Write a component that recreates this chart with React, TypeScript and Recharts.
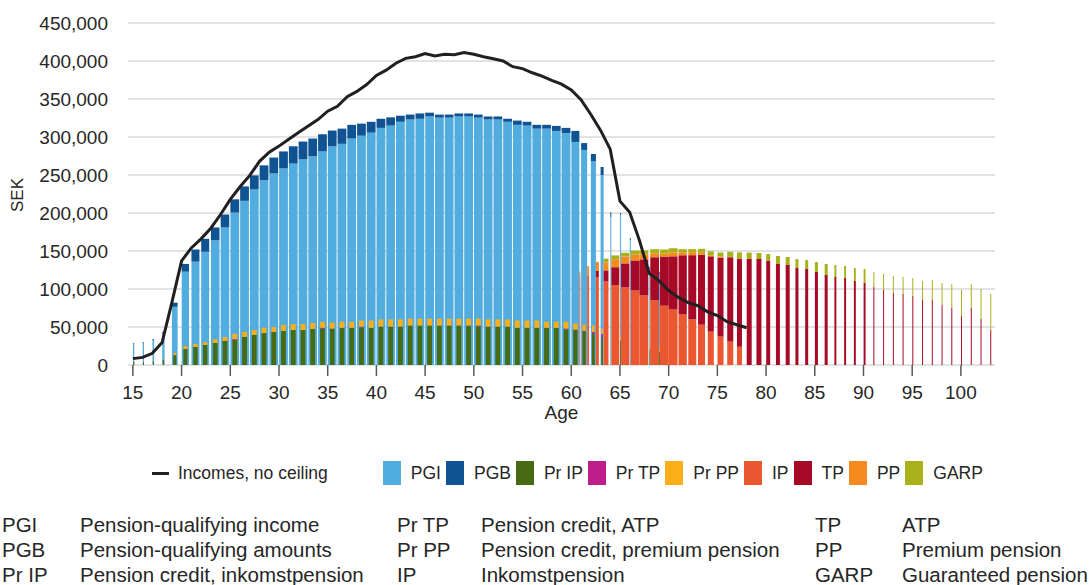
import React from "react";
import { ComposedChart, Bar, Line, XAxis, YAxis, CartesianGrid } from "recharts";

// ages 15..103
const ages = [
  15, 16, 17, 18, 19, 20, 21, 22, 23, 24,
  25, 26, 27, 28, 29, 30, 31, 32, 33, 34,
  35, 36, 37, 38, 39, 40, 41, 42, 43, 44,
  45, 46, 47, 48, 49, 50, 51, 52, 53, 54,
  55, 56, 57, 58, 59, 60, 61, 62, 63, 64,
  65, 66, 67, 68, 69, 70, 71, 72, 73, 74,
  75, 76, 77, 78, 79, 80, 81, 82, 83, 84,
  85, 86, 87, 88, 89, 90, 91, 92, 93, 94,
  95, 96, 97, 98, 99, 100, 101, 102, 103,
];

// values in thousand SEK, one entry per age
const pgi = [
  27, 28.5, 32.5, 41.8, 76.6, 122.8, 136, 149, 164, 181,
  200.6, 216, 231, 243, 252, 258.7, 265, 270.6, 274.6, 281,
  287.7, 291, 298, 301.7, 305.7, 312, 315, 320, 323, 324,
  327, 325.5, 325.5, 327, 327, 325.5, 323, 323, 320, 316,
  315, 311, 311, 308, 305, 293.5, 283, 268, 250, 194.5,
  197, 164, 0, 127, 120, 0, 0, 0, 0, 0,
  0, 0, 0, 0, 0, 0, 0, 0, 0, 0,
  0, 0, 0, 0, 0, 0, 0, 0, 0, 0,
  0, 0, 0, 0, 0, 0, 0, 0, 0,
];
const pgb = [
  1.6, 1.5, 1.5, 1.8, 5.4, 10.2, 16, 17, 17, 17,
  17.4, 19, 18.5, 19.7, 21, 22.3, 22.8, 23.4, 23.4, 22.6,
  20.8, 20, 18, 15.9, 14.3, 12, 10.8, 8, 6.5, 7,
  5, 4, 4, 4, 4, 4, 4, 4, 4, 5.6,
  5, 5, 5, 6.6, 7, 14.5, 9, 9.6, 10.5, 6.5,
  3, 3, 0, 2, 2, 0, 0, 0, 0, 0,
  0, 0, 0, 0, 0, 0, 0, 0, 0, 0,
  0, 0, 0, 0, 0, 0, 0, 0, 0, 0,
  0, 0, 0, 0, 0, 0, 0, 0, 0,
];
const prIp = [
  4, 4, 5, 7, 13, 21, 23.8, 26.4, 29, 31.7,
  33, 37, 39.6, 42, 43.6, 45, 46, 46, 47.5, 48,
  48, 48.5, 49, 49.5, 49, 50.6, 50.6, 50.6, 52, 52,
  52, 52, 52, 52, 52, 51, 50.6, 50.6, 50.6, 49,
  49, 49, 49, 49, 47, 46.6, 45, 41, 36, 0,
  32, 0, 0, 20, 17.6, 0, 0, 0, 0, 0,
  0, 0, 0, 0, 0, 0, 0, 0, 0, 0,
  0, 0, 0, 0, 0, 0, 0, 0, 0, 0,
  0, 0, 0, 0, 0, 0, 0, 0, 0,
];
const prTp = [
  0, 0, 0, 0, 0, 0, 0, 0, 0, 0,
  1, 0, 0, 0, 0, 0, 0, 0, 0, 1,
  0, 0.5, 0, 1.1, 0, 0, 0, 0, 0, 0,
  0, 0, 0, 0, 0, 1, 0, 0, 0, 0,
  0, 0, 0, 0, 1, 0, 0, 2.6, 5, 0,
  0, 0, 0, 0, 0, 0, 0, 0, 0, 0,
  0, 0, 0, 0, 0, 0, 0, 0, 0, 0,
  0, 0, 0, 0, 0, 0, 0, 0, 0, 0,
  0, 0, 0, 0, 0, 0, 0, 0, 0,
];
const prPp = [
  0.5, 0.5, 1, 1, 3, 4, 3.9, 3.6, 5, 5.3,
  7, 6.6, 6.4, 7, 6.4, 7.8, 8, 8, 7.9, 7.8,
  8, 8, 8, 8, 9.6, 9.4, 9.4, 9.4, 9, 9,
  9, 9, 9, 9, 9, 9, 9.4, 9.4, 9.4, 9.6,
  9.6, 9.6, 8, 8, 9, 8, 8, 8.4, 7, 0,
  4.5, 0, 0, 4, 4, 0, 0, 0, 0, 0,
  0, 0, 0, 0, 0, 0, 0, 0, 0, 0,
  0, 0, 0, 0, 0, 0, 0, 0, 0, 0,
  0, 0, 0, 0, 0, 0, 0, 0, 0,
];
const ip = [
  0, 0, 0, 0, 0, 0, 0, 0, 0, 0,
  0, 0, 0, 0, 0, 0, 0, 0, 0, 0,
  0, 0, 0, 0, 0, 0, 0, 0, 0, 0,
  0, 0, 0, 0, 0, 0, 0, 0, 0, 0,
  0, 0, 0, 0, 0, 118, 117, 115.8, 110, 104.7,
  102, 98, 91.5, 85, 78, 73, 66.4, 60, 53, 44,
  37.4, 30.8, 24, 0, 0, 0, 0, 0, 0, 0,
  0, 0, 0, 0, 0, 0, 0, 0, 0, 0,
  0, 0, 0, 0, 0, 0, 0, 0, 0,
];
const tp = [
  0, 0, 0, 0, 0, 0, 0, 0, 0, 0,
  0, 0, 0, 0, 0, 0, 0, 0, 0, 0,
  0, 0, 0, 0, 0, 0, 0, 0, 0, 0,
  0, 0, 0, 0, 0, 0, 0, 0, 0, 0,
  0, 0, 0, 0, 0, 0, 0, 8, 14.5, 24,
  31.7, 39.6, 47.5, 56.8, 64.7, 70, 78, 84.5, 92, 99,
  104, 111, 116, 140, 139.5, 136.8, 133, 131.6, 127.6, 126.3,
  122.4, 118.4, 115.8, 114.5, 110.5, 107.9, 102.6, 98.7, 94.7, 93.4,
  90.8, 85.5, 85.5, 79, 75, 64.5, 75, 60.5, 46,
];
const pp = [
  0, 0, 0, 0, 0, 0, 0, 0, 0, 0,
  0, 0, 0, 0, 0, 0, 0, 0, 0, 0,
  0, 0, 0, 0, 0, 0, 0, 0, 0, 0,
  0, 0, 0, 0, 0, 0, 0, 0, 0, 0,
  0, 0, 0, 0, 0, 5, 13, 12, 10.5, 10.5,
  9, 8, 6.6, 5.3, 4, 5.3, 4, 4, 2.6, 1.3,
  1.3, 0.5, 0.3, 0, 0, 0, 0, 0, 0, 0,
  0, 0, 0, 0, 0, 0, 0, 0, 0, 0,
  0, 0, 0, 0, 0, 0, 0, 0, 0,
];
const garp = [
  0, 0, 0, 0, 0, 0, 0, 0, 0, 0,
  0, 0, 0, 0, 0, 0, 0, 0, 0, 0,
  0, 0, 0, 0, 0, 0, 0, 0, 0, 0,
  0, 0, 0, 0, 0, 0, 0, 0, 0, 0,
  0, 0, 0, 0, 0, 0, 0, 0, 5, 5,
  5, 5, 5.3, 5.3, 5.3, 5.3, 4, 4, 5.3, 5.3,
  5.3, 6.6, 7.9, 7.9, 7.9, 9.2, 10.5, 10.5, 11.8, 11.8,
  13, 14.5, 15.8, 15.8, 17, 18.4, 19.8, 21, 22.3, 22.4,
  23.7, 25, 26.3, 28.9, 31.6, 34.2, 31.6, 39.5, 47.4,
];
const income = [
  8.4, 10, 15.4, 29.5, 82, 137, 154, 166, 180, 198,
  218, 234.5, 249.5, 268, 280, 288, 297, 305.8, 314.6, 323,
  334, 340.5, 353, 360, 369, 381, 388, 397, 403.5, 405.7,
  409.7, 406.6, 408.8, 408.3, 411, 408.8, 405.7, 403, 400, 392.5,
  390, 384.5, 380, 374.5, 369.6, 362, 349, 330, 309, 284,
  215.6, 201, 164, 120.6, 111, 98, 89, 82, 78, 70,
  65, 57, 53, 49, null, null, null, null, null, null,
  null, null, null, null, null, null, null, null, null, null,
  null, null, null, null, null, null, null, null, null,
];
// share of each age's slot taken by the work bars and the pension bars
const earnW = [
  0.13, 0.13, 0.17, 0.24, 0.58, 0.75, 0.82, 0.82, 0.88, 0.88,
  0.9, 0.9, 0.9, 0.9, 0.9, 0.9, 0.9, 0.9, 0.9, 0.9,
  0.9, 0.9, 0.9, 0.9, 0.9, 0.9, 0.9, 0.9, 0.9, 0.9,
  0.9, 0.9, 0.9, 0.9, 0.9, 0.9, 0.9, 0.9, 0.9, 0.9,
  0.9, 0.9, 0.9, 0.9, 0.9, 0.82, 0.62, 0.52, 0.31, 0.1,
  0.1, 0.1, 0, 0.1, 0.1, 0, 0, 0, 0, 0,
  0, 0, 0, 0, 0, 0, 0, 0, 0, 0,
  0, 0, 0, 0, 0, 0, 0, 0, 0, 0,
  0, 0, 0, 0, 0, 0, 0, 0, 0,
];
const pensW = [
  0, 0, 0, 0, 0, 0, 0, 0, 0, 0,
  0, 0, 0, 0, 0, 0, 0, 0, 0, 0,
  0, 0, 0, 0, 0, 0, 0, 0, 0, 0,
  0, 0, 0, 0, 0, 0, 0, 0, 0, 0,
  0, 0, 0, 0, 0, 0.1, 0.2, 0.3, 0.5, 0.82,
  0.85, 0.9, 0.9, 0.9, 0.9, 0.9, 0.85, 0.82, 0.72, 0.62,
  0.62, 0.62, 0.51, 0.51, 0.51, 0.41, 0.41, 0.41, 0.31, 0.31,
  0.31, 0.31, 0.2, 0.2, 0.2, 0.2, 0.1, 0.1, 0.1, 0.1,
  0.09, 0.09, 0.09, 0.09, 0.09, 0.09, 0.09, 0.09, 0.09,
];

const yTicks = [0, 50000, 100000, 150000, 200000, 250000, 300000, 350000, 400000, 450000];

const K = 1000;
const data = ages.map((age, i) => ({
  age,
  pgi: pgi[i] * K,
  pgb: pgb[i] * K,
  prIp: prIp[i] * K,
  prTp: prTp[i] * K,
  prPp: prPp[i] * K,
  ip: ip[i] * K,
  tp: tp[i] * K,
  pp: pp[i] * K,
  garp: garp[i] * K,
  income: income[i] == null ? null : (income[i] as number) * K,
  earnW: earnW[i],
  pensW: pensW[i],
}));

const COLORS = {
  pgi: "#51acdf",
  pgb: "#0f5392",
  prIp: "#476a12",
  prTp: "#bf1d8b",
  prPp: "#fbae17",
  ip: "#ea5730",
  tp: "#a70a27",
  pp: "#f58a1f",
  garp: "#a9b11a",
};

const W = 1090;
const M = { top: 23, right: 95, bottom: 5, left: 20 };
const YW = 108;
const BAND = (W - M.left - YW - M.right) / ages.length;
const TEXT = "#262626";
const FONT = '"Liberation Sans", Arial, sans-serif';

type Kind = "earn" | "credit" | "pension";

const makeShape = (kind: Kind) => (p: any) => {
  const { x, y, width, height, fill, payload } = p;
  if (!payload || !(height > 0)) return <g />;
  const anchor = x + width / 2;
  const ew = payload.earnW * BAND;
  let left = anchor;
  let w = ew;
  if (kind === "credit") {
    w = ew * 0.55;
    left = anchor + (ew - w) / 2;
  } else if (kind === "pension") {
    left = anchor + ew;
    w = payload.pensW * BAND;
  }
  if (w <= 0) return <g />;
  return <rect x={left} y={y} width={Math.max(w, 1)} height={height} fill={fill} />;
};

const earnShape = makeShape("earn");
const creditShape = makeShape("credit");
const pensionShape = makeShape("pension");

const legendItems = [
  { key: "pgi", label: "PGI" },
  { key: "pgb", label: "PGB" },
  { key: "prIp", label: "Pr IP" },
  { key: "prTp", label: "Pr TP" },
  { key: "prPp", label: "Pr PP" },
  { key: "ip", label: "IP" },
  { key: "tp", label: "TP" },
  { key: "pp", label: "PP" },
  { key: "garp", label: "GARP" },
];

const glossary = [
  [
    ["PGI", "Pension-qualifying income"],
    ["PGB", "Pension-qualifying amounts"],
    ["Pr IP", "Pension credit, inkomstpension"],
  ],
  [
    ["Pr TP", "Pension credit, ATP"],
    ["Pr PP", "Pension credit, premium pension"],
    ["IP", "Inkomstpension"],
  ],
  [
    ["TP", "ATP"],
    ["PP", "Premium pension"],
    ["GARP", "Guaranteed pension"],
  ],
];
const glossCols = [
  { abbr: 2, desc: 80 },
  { abbr: 397, desc: 481 },
  { abbr: 815, desc: 902 },
];

export default function App() {
  const tick = { fontSize: 19, fill: TEXT, fontFamily: FONT };
  return (
    <div
      style={{
        position: "absolute",
        left: 0,
        top: 0,
        width: 1090,
        height: 585,
        overflow: "hidden",
        background: "#fff",
        fontFamily: FONT,
        color: TEXT,
      }}
    >
      <ComposedChart width={W} height={430} data={data} margin={M} barCategoryGap={0} barGap={0}>
        <CartesianGrid vertical={false} stroke="#dadada" strokeWidth={1.5} />
        <XAxis
          xAxisId="main"
          dataKey="age"
          interval={4}
          axisLine={false}
          tickLine={{ stroke: "#595959", strokeWidth: 1.5 }}
          tickSize={11}
          tickMargin={10}
          height={60}
          tick={tick}
          label={{ value: "Age", position: "insideBottom", offset: 6, fontSize: 19, fill: TEXT, fontFamily: FONT }}
        />
        <XAxis xAxisId="credit" dataKey="age" hide height={0} />
        <XAxis xAxisId="pension" dataKey="age" hide height={0} />
        <YAxis
          domain={[0, 450000]}
          ticks={yTicks}
          interval={0}
          width={YW}
          axisLine={false}
          tickLine={false}
          tickSize={0}
          tickMargin={20}
          tick={tick}
          tickFormatter={(v: number) => v.toLocaleString("en-US")}
        />
        <Bar xAxisId="main" dataKey="pgi" stackId="earn" fill={COLORS.pgi} shape={earnShape} isAnimationActive={false} />
        <Bar xAxisId="main" dataKey="pgb" stackId="earn" fill={COLORS.pgb} shape={earnShape} isAnimationActive={false} />
        <Bar xAxisId="credit" dataKey="prIp" stackId="credit" fill={COLORS.prIp} shape={creditShape} isAnimationActive={false} />
        <Bar xAxisId="credit" dataKey="prTp" stackId="credit" fill={COLORS.prTp} shape={creditShape} isAnimationActive={false} />
        <Bar xAxisId="credit" dataKey="prPp" stackId="credit" fill={COLORS.prPp} shape={creditShape} isAnimationActive={false} />
        <Bar xAxisId="pension" dataKey="ip" stackId="pension" fill={COLORS.ip} shape={pensionShape} isAnimationActive={false} />
        <Bar xAxisId="pension" dataKey="tp" stackId="pension" fill={COLORS.tp} shape={pensionShape} isAnimationActive={false} />
        <Bar xAxisId="pension" dataKey="pp" stackId="pension" fill={COLORS.pp} shape={pensionShape} isAnimationActive={false} />
        <Bar xAxisId="pension" dataKey="garp" stackId="pension" fill={COLORS.garp} shape={pensionShape} isAnimationActive={false} />
        <Line
          xAxisId="main"
          dataKey="income"
          type="linear"
          stroke="#231f20"
          strokeWidth={3}
          dot={false}
          activeDot={false}
          isAnimationActive={false}
        />
      </ComposedChart>

      <div
        style={{
          position: "absolute",
          left: 18,
          top: 195,
          transform: "translate(-50%, -50%) rotate(-90deg)",
          fontSize: 17,
          whiteSpace: "nowrap",
        }}
      >
        SEK
      </div>

      <div
        style={{
          position: "absolute",
          left: 152,
          top: 461,
          height: 24,
          display: "flex",
          alignItems: "center",
          fontSize: 17.5,
          whiteSpace: "nowrap",
        }}
      >
        <span style={{ display: "inline-block", width: 17, height: 3, background: "#231f20", marginRight: 9 }} />
        <span style={{ marginRight: 55 }}>Incomes, no ceiling</span>
        {legendItems.map((it) => (
          <span key={it.key} style={{ display: "flex", alignItems: "center", marginRight: 5 }}>
            <span
              style={{
                display: "inline-block",
                width: 18,
                height: 24,
                background: (COLORS as any)[it.key],
                marginRight: 10,
              }}
            />
            {it.label}
          </span>
        ))}
      </div>

      {glossary.map((col, c) =>
        col.map((row, r) => (
          <React.Fragment key={`${c}-${r}`}>
            <div
              style={{
                position: "absolute",
                left: glossCols[c].abbr,
                top: 511.5 + r * 25,
                lineHeight: "25px",
                fontSize: 20.5,
                whiteSpace: "nowrap",
              }}
            >
              {row[0]}
            </div>
            <div
              style={{
                position: "absolute",
                left: glossCols[c].desc,
                top: 511.5 + r * 25,
                lineHeight: "25px",
                fontSize: 20.5,
                whiteSpace: "nowrap",
              }}
            >
              {row[1]}
            </div>
          </React.Fragment>
        ))
      )}
    </div>
  );
}
